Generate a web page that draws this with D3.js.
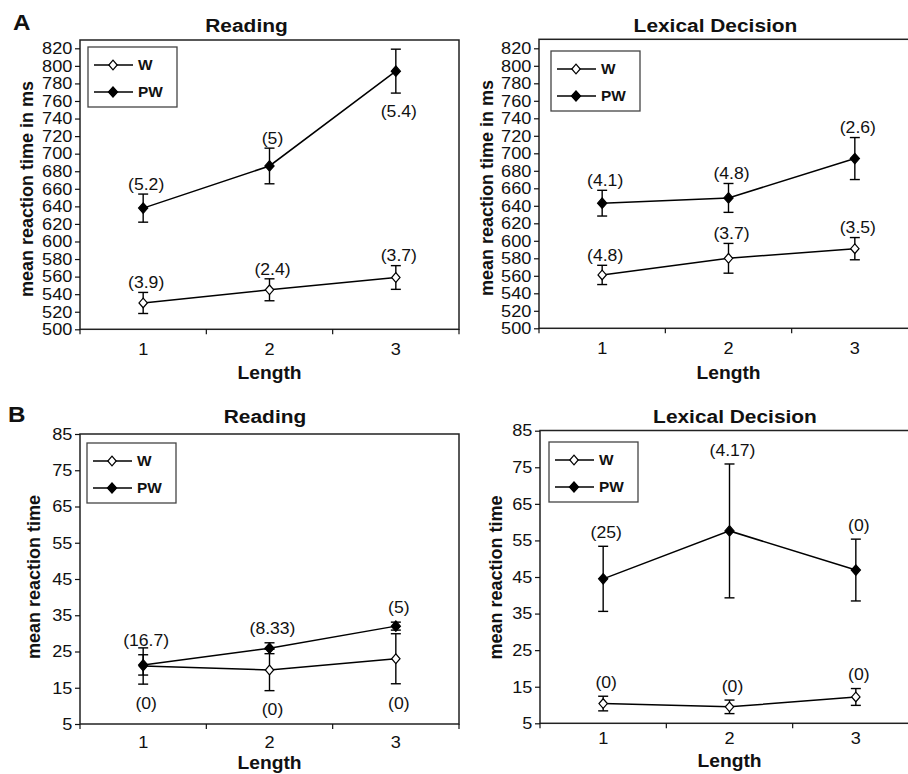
<!DOCTYPE html>
<html>
<head>
<meta charset="utf-8">
<script src="https://cdn.jsdelivr.net/npm/d3@7"></script>
<style>
  html, body { margin: 0; padding: 0; background: #fff; }
  svg { display: block; font-family: "Liberation Sans", Arial, Helvetica, sans-serif; }
</style>
</head>
<body>
<svg id="chart" width="908" height="774"></svg>
<script>
// ---------------- DATA ----------------
const categories = [1, 2, 3];
const seriesNames = ["W", "PW"];
const ticksMs = [500, 520, 540, 560, 580, 600, 620, 640, 660, 680, 700, 720, 740, 760, 780, 800, 820];
const ticksErr = [5, 15, 25, 35, 45, 55, 65, 75, 85];

// A – Reading (ms)
const readingA_W = [530, 545, 559];
const readingA_W_err = [12, 12.5, 13.5];
const readingA_PW = [638, 686, 794];
const readingA_PW_err = [16, 20.3, 25];
const readingA_W_labels = ["(3.9)", "(2.4)", "(3.7)"];
const readingA_PW_labels = ["(5.2)", "(5)", "(5.4)"];
const readingA_W_labelSide = ["above", "above", "above"];
const readingA_PW_labelSide = ["above", "above", "below"];

// A – Lexical Decision (ms)
const lexicalA_W = [561, 580, 591];
const lexicalA_W_err = [11, 17, 12.7];
const lexicalA_PW = [643, 649, 694];
const lexicalA_PW_err = [14.7, 16.5, 24];
const lexicalA_W_labels = ["(4.8)", "(3.7)", "(3.5)"];
const lexicalA_PW_labels = ["(4.1)", "(4.8)", "(2.6)"];
const lexicalA_W_labelSide = ["above", "above", "above"];
const lexicalA_PW_labelSide = ["above", "above", "above"];

// B – Reading
const readingB_W = [21.0, 19.9, 23.0];
const readingB_W_err = [5.0, 5.7, 6.9];
const readingB_PW = [21.3, 25.9, 32.0];
const readingB_PW_err = [2.8, 1.5, 1.1];
const readingB_W_labels = ["(0)", "(0)", "(0)"];
const readingB_PW_labels = ["(16.7)", "(8.33)", "(5)"];
const readingB_W_labelSide = ["below", "below", "below"];
const readingB_PW_labelSide = ["above", "above", "above"];

// B – Lexical Decision
const lexicalB_W = [10.4, 9.5, 12.2];
const lexicalB_W_err = [2.0, 1.85, 2.3];
const lexicalB_PW = [44.5, 57.6, 46.9];
const lexicalB_PW_err = [8.9, 18.3, 8.45];
const lexicalB_W_labels = ["(0)", "(0)", "(0)"];
const lexicalB_PW_labels = ["(25)", "(4.17)", "(0)"];
const lexicalB_W_labelSide = ["above", "above", "above"];
const lexicalB_PW_labelSide = ["above", "above", "above"];

// ---------------- LAYOUT ----------------
const SX = 1.1; // horizontal stretch of the reference's text
const panels = [
  { title: "Reading", yLabel: "mean reaction time in ms", ticks: ticksMs,
    left: 80, right: 459, frameTop: 40, bottom: 329.3, topTickPx: 48.3,
    titleX: 246.5, titleY: 32, yLabelX: 33, yLabelY: 189, lengthY: 379, xPad: 14,
    legend: [88, 47],
    W: readingA_W, Werr: readingA_W_err, PW: readingA_PW, PWerr: readingA_PW_err,
    Wl: readingA_W_labels, PWl: readingA_PW_labels, Ws: readingA_W_labelSide, PWs: readingA_PW_labelSide,
    above: 10, below: 18, clip: true },
  { title: "Lexical Decision", yLabel: "mean reaction time in ms", ticks: ticksMs,
    left: 539, right: 918, frameTop: 39.3, bottom: 328.3, topTickPx: 48.3,
    titleX: 715.5, titleY: 32, yLabelX: 493, yLabelY: 188, lengthY: 379, xPad: 14,
    legend: [551, 51],
    W: lexicalA_W, Werr: lexicalA_W_err, PW: lexicalA_PW, PWerr: lexicalA_PW_err,
    Wl: lexicalA_W_labels, PWl: lexicalA_PW_labels, Ws: lexicalA_W_labelSide, PWs: lexicalA_PW_labelSide,
    above: 10, below: 18, clip: true },
  { title: "Reading", yLabel: "mean reaction time", ticks: ticksErr,
    left: 80, right: 459, frameTop: 434, bottom: 724, topTickPx: 434,
    titleX: 265, titleY: 422.6, yLabelX: 40, yLabelY: 577, lengthY: 769, xPad: 12,
    legend: [87, 443],
    W: readingB_W, Werr: readingB_W_err, PW: readingB_PW, PWerr: readingB_PW_err,
    Wl: readingB_W_labels, PWl: readingB_PW_labels, Ws: readingB_W_labelSide, PWs: readingB_PW_labelSide,
    above: 15, below: 19, clip: false },
  { title: "Lexical Decision", yLabel: "mean reaction time", ticks: ticksErr,
    left: 540, right: 919, frameTop: 430.5, bottom: 723.3, topTickPx: 430.7,
    titleX: 735, titleY: 422.6, yLabelX: 502, yLabelY: 577.5, lengthY: 767, xPad: 9,
    legend: [549, 442],
    W: lexicalB_W, Werr: lexicalB_W_err, PW: lexicalB_PW, PWerr: lexicalB_PW_err,
    Wl: lexicalB_W_labels, PWl: lexicalB_PW_labels, Ws: lexicalB_W_labelSide, PWs: lexicalB_PW_labelSide,
    above: 14, below: 19, clip: false }
];

const svg = d3.select("#chart");
svg.append("rect").attr("width", 908).attr("height", 774).attr("fill", "#fff");
svg.append("defs").append("clipPath").attr("id", "topClip")
  .append("rect").attr("x", 0).attr("y", 0).attr("width", 908).attr("height", 383);

function txt(g, x, y, s, size, weight, anchor) {
  return g.append("text")
    .attr("transform", `translate(${x},${y}) scale(${SX},1)`)
    .attr("text-anchor", anchor || "middle")
    .style("font-size", size + "px")
    .style("font-weight", weight || "normal")
    .attr("fill", "#111")
    .text(s);
}

function diamond(g, cx, cy, filled) {
  const hw = filled ? 4.6 : 4.2, hh = filled ? 5.2 : 4.8;
  g.append("path")
    .attr("d", `M${cx},${cy - hh}L${cx + hw},${cy}L${cx},${cy + hh}L${cx - hw},${cy}Z`)
    .attr("fill", filled ? "#000" : "#fff")
    .attr("stroke", "#000").attr("stroke-width", 1.2);
}

// panel letters
txt(svg, 13, 30, "A", 22, "bold", "start");
txt(svg, 8, 421.7, "B", 22, "bold", "start");

panels.forEach(p => {
  const g = svg.append("g");
  if (p.clip) g.attr("clip-path", "url(#topClip)");
  const vals = p.ticks;
  const y = d3.scaleLinear().domain([vals[0], vals[vals.length - 1]]).range([p.bottom, p.topTickPx]);
  const x = d3.scaleBand().domain(categories).range([p.left, p.right]).padding(0);
  const cx = c => x(c) + x.bandwidth() / 2;

  // frame
  g.append("rect").attr("x", p.left).attr("y", p.frameTop)
    .attr("width", p.right - p.left).attr("height", p.bottom - p.frameTop)
    .attr("fill", "none").attr("stroke", "#222").attr("stroke-width", 1.5);

  // y axis
  const ya = g.append("g").attr("transform", `translate(${p.left},0)`)
    .call(d3.axisLeft(y).tickValues(vals).tickSize(5).tickPadding(2).tickSizeOuter(0));
  ya.select(".domain").remove();
  ya.selectAll("line").attr("stroke", "#111").attr("stroke-width", 1.2);
  ya.selectAll("text").style("font-size", "16.5px").attr("fill", "#111")
    .attr("transform", `scale(${SX},1)`);

  // x axis
  const xa = g.append("g").attr("transform", `translate(0,${p.bottom})`)
    .call(d3.axisBottom(x).tickSize(0).tickPadding(p.xPad).tickSizeOuter(0));
  xa.select(".domain").remove();
  xa.selectAll("text").style("font-size", "16.5px").attr("fill", "#111")
    .attr("transform", `scale(${SX},1)`)
    .attr("x", 0);
  const boundaries = categories.map(c => x(c)).concat([p.right]);
  g.selectAll(null).data(boundaries).enter().append("line")
    .attr("x1", d => d).attr("x2", d => d)
    .attr("y1", p.bottom).attr("y2", p.bottom + 5)
    .attr("stroke", "#111").attr("stroke-width", 1.2);

  // titles
  txt(g, p.titleX, p.titleY, p.title, 19, "bold");
  txt(g, (p.left + p.right) / 2, p.lengthY, "Length", 17.5, "bold");
  g.append("text")
    .attr("transform", `translate(${p.yLabelX},${p.yLabelY}) rotate(-90)`)
    .attr("text-anchor", "middle")
    .style("font-size", "18px").style("font-weight", "bold").attr("fill", "#111")
    .text(p.yLabel);

  // series
  const series = [
    { name: "W", v: p.W, e: p.Werr, l: p.Wl, s: p.Ws, filled: false },
    { name: "PW", v: p.PW, e: p.PWerr, l: p.PWl, s: p.PWs, filled: true }
  ];
  const line = d3.line().x((d, i) => cx(categories[i])).y(d => y(d));
  series.forEach(s => {
    g.append("path").attr("d", line(s.v)).attr("fill", "none")
      .attr("stroke", "#000").attr("stroke-width", 1.5);
  });
  series.forEach(s => {
    s.v.forEach((v, i) => {
      const px = cx(categories[i]);
      const yt = y(v + s.e[i]), yb = y(v - s.e[i]);
      g.append("line").attr("x1", px).attr("x2", px).attr("y1", yt).attr("y2", yb)
        .attr("stroke", "#000").attr("stroke-width", 1.4);
      [yt, yb].forEach(yy => g.append("line").attr("x1", px - 5).attr("x2", px + 5)
        .attr("y1", yy).attr("y2", yy).attr("stroke", "#000").attr("stroke-width", 1.4));
    });
  });
  series.forEach(s => {
    s.v.forEach((v, i) => diamond(g, cx(categories[i]), y(v), s.filled));
  });
  series.forEach(s => {
    s.v.forEach((v, i) => {
      const px = cx(categories[i]) + 3;
      const yc = s.s[i] === "above" ? y(v + s.e[i]) - p.above : y(v - s.e[i]) + p.below;
      txt(g, px, yc + 5.8, s.l[i], 16, "normal");
    });
  });

  // legend
  const [lx, ly] = p.legend;
  g.append("rect").attr("x", lx).attr("y", ly).attr("width", 89).attr("height", 60)
    .attr("fill", "#fff").attr("stroke", "#444").attr("stroke-width", 1.3);
  seriesNames.forEach((n, i) => {
    const ry = ly + 18 + i * 27;
    g.append("line").attr("x1", lx + 6).attr("x2", lx + 45).attr("y1", ry).attr("y2", ry)
      .attr("stroke", "#000").attr("stroke-width", 1.4);
    diamond(g, lx + 25, ry, n === "PW");
    txt(g, lx + 50, ry + 5, n, 14, "bold", "start");
  });
});
</script>
</body>
</html>
